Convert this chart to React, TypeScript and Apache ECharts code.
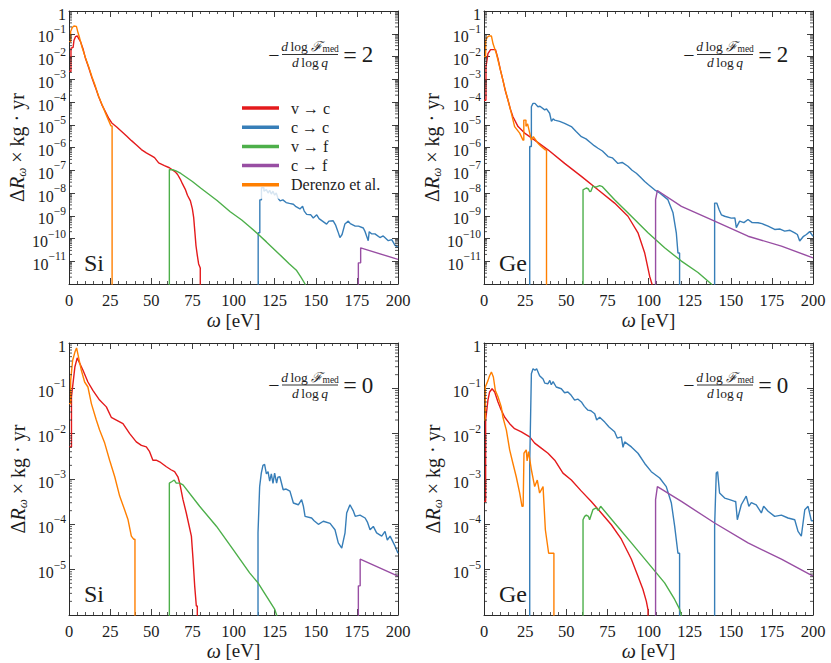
import React, { useEffect, useRef } from "react";
import * as echarts from "echarts";

const FONT = '"Liberation Serif", "DejaVu Serif", serif';
const TXT = "#1c1c1c";
const AX = "#2a2a2a";

const seriesNames = ["v → c", "c → c", "v → f", "c → f", "Derenzo et al."];
const seriesColors = ["#e41a1c", "#377eb8", "#4daf4a", "#984ea3", "#ff7f00"];
const xTickValues = [0, 25, 50, 75, 100, 125, 150, 175, 200];
const minorMultipliers = [2, 3, 4, 5, 6, 7, 8, 9];

// ---------- Si, -dlogF/dlogq = 2 ----------
const siSteepVC = [[0,2.2e-3],[1.2,2.2e-3],[1.2,2.3e-2],[2.5,2.5e-2],[3,5e-2],[4,7.5e-2],[5,8.1e-2],[6,6e-2],[7,4.5e-2],[8.5,2.2e-2],[10,8.3e-3],[12,3.2e-3],[14,1.12e-3],[16,4.5e-4],[18,1.74e-4],[20,7.5e-5],[22,3.9e-5],[24,2.0e-5],[26,1.2e-5],[29,8e-6],[32,5.1e-6],[35,3.2e-6],[38,2.0e-6],[41,1.3e-6],[44,8.1e-7],[47,5.8e-7],[50.5,4.2e-7],[52,3.6e-7],[54.5,2.1e-7],[58,1.6e-7],[61,1.29e-7],[64.6,8.5e-8],[66,6.5e-8],[67.7,4e-8],[69,2.5e-8],[70.7,1.45e-8],[72,8e-9],[73.8,4.5e-9],[75,2e-9],[75.8,8.3e-10],[76.5,2e-10],[77.2,4.8e-11],[78,1.8e-11],[78.8,7.6e-12],[79.8,5e-12],[79.8,1e-13]];
const siSteepCC = [[115,1e-13],[115,1.8e-10],[116,1.8e-10],[116,5e-9],[117,5e-9],[117,1.7e-8],[118.5,1.7e-8],[118.5,1.2e-8],[120,1.4e-8],[121,1e-8],[122,1.3e-8],[123,9e-9],[124,1.2e-8],[125,8e-9],[126,1e-8],[127,6e-9],[128.3,4.5e-9],[130,5e-9],[132,3.8e-9],[134,3.5e-9],[136.4,3.2e-9],[138,2.5e-9],[140.4,2e-9],[142,2.6e-9],[143,1.6e-9],[144.5,1.15e-9],[147,1.1e-9],[148.5,8e-10],[150.6,1.1e-9],[152,7.5e-10],[156.6,4.3e-10],[158,5.8e-10],[160.6,6e-10],[162,4e-10],[163.5,2e-10],[164.7,1.1e-10],[166,1.5e-10],[167.7,4.3e-10],[169.8,5.8e-10],[171,4.5e-10],[174,3.5e-10],[176,3.5e-10],[178.9,2.9e-10],[180,2e-10],[181.9,8e-11],[182.5,2e-10],[183.9,1.6e-10],[186,1.6e-10],[189,1.1e-10],[191,1.3e-10],[194.1,8e-11],[196.2,9e-11],[198.2,5e-11],[200,4.1e-11]];
const siSteepVF = [[61,1e-13],[61,1.07e-7],[63,1.05e-7],[65,9.3e-8],[68,7.2e-8],[75,3.2e-8],[80,1.66e-8],[90,4.7e-9],[98,1.5e-9],[105,6.5e-10],[110,3.2e-10],[115,1.55e-10],[120,7.1e-11],[128,2.0e-11],[134,7.5e-12],[138.4,3.9e-12],[141,2e-12],[143.5,1e-12],[145,5e-13]];
const siSteepCF = [[175.9,1e-13],[175.9,8.5e-12],[177.3,8.5e-12],[177.3,3.9e-11],[200,1.2e-11]];
const siSteepDer = [[0,4.5e-2],[1,4.5e-2],[1,1.26e-1],[2,1.9e-1],[3,2.2e-1],[4.5,2.1e-1],[5.5,1.1e-1],[6.5,6.3e-2],[8,2.5e-2],[10,8.9e-3],[12,3.5e-3],[14,1.26e-3],[16,5e-4],[18,1.8e-4],[20,8e-5],[22,3.5e-5],[24,1.6e-5],[25.5,8.9e-6],[26.2,8.9e-6],[26.2,1e-13]];

// ---------- Ge, -dlogF/dlogq = 2 ----------
const geSteepVC = [[0,1.2e-4],[1.2,1.2e-4],[1.2,3.5e-3],[2.4,1.35e-2],[4,2e-2],[7,2e-2],[8.5,8.1e-3],[10,2.5e-3],[11.5,9.1e-4],[13,3e-4],[14.6,1.2e-4],[16,5e-5],[17.6,2.24e-5],[20.7,8.3e-6],[24.7,4.3e-6],[30.8,2.1e-6],[38.9,7.9e-7],[49,2e-7],[59.2,5.4e-8],[69.3,1.38e-8],[79.4,3.6e-9],[87.5,9.5e-10],[93.6,1.78e-10],[97.7,2.3e-11],[100.7,2.2e-12],[102.1,1e-12],[102.1,1e-13]];
const geSteepCC = [[27.8,1e-13],[27.8,1.1e-6],[28.8,1.1e-6],[28.8,6.2e-5],[29.8,8.7e-5],[31,8.7e-5],[32.8,6.2e-5],[34,6.5e-5],[36.9,4.5e-5],[38,5e-5],[39.9,3.2e-5],[41,1.4e-5],[42,1.8e-5],[43,1.6e-5],[46,1.4e-5],[49,1.15e-5],[53.1,8.3e-6],[56,5e-6],[59.2,3e-6],[62,2.4e-6],[65.2,1.55e-6],[67,1.2e-6],[69.3,9.3e-7],[72,7e-7],[75.4,4e-7],[78,3.5e-7],[81.4,2e-7],[84,2.2e-7],[87.5,1.5e-7],[90,1e-7],[92.6,7.4e-8],[95,5e-8],[97.7,3.2e-8],[100,2.3e-8],[103.7,1.38e-8],[106.8,1e-8],[109,7.5e-9],[111.8,5.1e-9],[114.9,1.35e-9],[116.9,1.78e-10],[117.9,2.3e-11],[118.9,2.3e-11],[118.9,1e-13],[140.2,1e-13],[140.2,3.6e-9],[141.5,3.6e-9],[143,1.8e-9],[144.3,1.1e-9],[146.3,9.5e-10],[150.3,7.9e-10],[152.5,8e-10],[153.4,3e-10],[155.4,5.8e-10],[158,5e-10],[160.5,6.8e-10],[163,5e-10],[166.6,4.9e-10],[169,4.5e-10],[172.7,3.5e-10],[176.7,2.5e-10],[180,2.6e-10],[182.8,2.1e-10],[186,2.3e-10],[188.9,1.78e-10],[190.5,1.5e-10],[191.9,7.8e-11],[194,1.2e-10],[196,1.5e-10],[198,2e-10],[200,1.26e-10]];
const geSteepVF = [[60.2,1e-13],[60.2,1.38e-8],[62.2,1.66e-8],[63.5,1.5e-8],[64.2,1.17e-8],[65,1.2e-8],[66.2,2e-8],[68,1.8e-8],[70.3,2.1e-8],[72,1.9e-8],[79.4,5.1e-9],[89.6,9.5e-10],[99.7,1.78e-10],[109.8,3.9e-11],[120,1.02e-11],[130.1,3.2e-12],[138.2,1e-12],[140,5e-13]];
const geSteepCF = [[104.3,1e-13],[104.3,5.1e-9],[105.4,1.29e-8],[120,2.6e-9],[140.2,5.8e-10],[160.5,1.26e-10],[180.8,4.6e-11],[200,1.41e-11]];
const geSteepDer = [[0,9.5e-3],[1,9.5e-3],[1,5e-2],[2,7e-2],[3,8e-2],[4.5,8e-2],[5.5,3.6e-2],[7.5,1.35e-2],[10.5,1.8e-3],[12.5,4.5e-4],[14.6,1.2e-4],[16.5,3.5e-5],[18.6,8.3e-6],[21.7,4.3e-6],[23.7,2.1e-6],[24.2,2.1e-6],[24.2,1.6e-5],[25.5,1.6e-5],[25.5,8.5e-6],[26.5,1.1e-5],[27.8,4.3e-6],[28.8,2.1e-6],[30,3e-6],[32.8,1.55e-6],[34.8,1.1e-6],[37.3,7.9e-7],[38,7.9e-7],[38,1e-13]];

// ---------- Si, -dlogF/dlogq = 0 ----------
const siFlatVC = [[0,5.1e-3],[1.5,5.1e-3],[1.5,6.5e-2],[3.6,3e-1],[5,4.7e-1],[6.6,3.5e-1],[8.5,2.5e-1],[11.5,1.38e-1],[14.6,8.9e-2],[18.6,5.5e-2],[22.7,3.9e-2],[25.7,2.3e-2],[28.8,2e-2],[32.8,1.66e-2],[36.9,1e-2],[40.9,6.6e-3],[44,5.5e-3],[47,5.1e-3],[49,4e-3],[51,2.6e-3],[53,2.6e-3],[55.1,2.4e-3],[59.2,1.86e-3],[62,1.6e-3],[64.2,1.45e-3],[66.2,1.12e-3],[67.3,8.1e-4],[69.3,3.5e-4],[71.3,1.78e-4],[74.4,5.5e-5],[75.4,1.7e-5],[76.4,4.4e-6],[77.4,1.58e-6],[78,1.58e-6],[78,1e-7]];
const siFlatCC = [[114.9,1e-7],[114.9,6.5e-5],[115.9,6.8e-4],[116.9,1.35e-3],[117.9,2e-3],[118.9,2.1e-3],[120,1.3e-3],[121,1.45e-3],[122,9e-4],[123,1.3e-3],[124,8e-4],[125,1.35e-3],[126.2,8.1e-4],[127,1.1e-3],[128.2,1.12e-3],[130.2,5.8e-4],[132,6e-4],[134.3,5.4e-4],[136.4,2.95e-4],[139.4,2.7e-4],[141.4,3.5e-4],[142.5,2.5e-4],[143.5,1.5e-4],[147.5,1.38e-4],[149,1.2e-4],[151.6,1e-4],[154.6,1.17e-4],[158.7,1.05e-4],[161.7,7.6e-5],[163.7,3.9e-5],[165.8,3e-5],[167.8,6.5e-5],[168.8,1.78e-4],[170.8,2.7e-4],[172.9,1.95e-4],[174,1.5e-4],[176.9,1.6e-4],[180,1.38e-4],[181.5,1.1e-4],[183,7.6e-5],[185,9e-5],[187,6.5e-5],[190.1,5.5e-5],[192.1,7e-5],[193.5,4.5e-5],[195.2,5.5e-5],[198.2,3.3e-5],[200,2.3e-5]];
const siFlatVF = [[61,1e-7],[61,8.1e-4],[62.4,8.7e-4],[64,9.5e-4],[65.2,8.1e-4],[67.3,8.1e-4],[69.3,7.4e-4],[79.4,2.5e-4],[89.6,9.1e-5],[99.7,2.8e-5],[109.8,8.5e-6],[114.9,5.1e-6],[120,2.6e-6],[125,1.35e-6],[126.2,1e-6],[127,7e-7]];
const siFlatCF = [[175.9,1e-7],[175.9,4.4e-6],[177,4.4e-6],[177,1.7e-5],[200,7.2e-6]];
const siFlatDer = [[0,4.6e-2],[1,4.6e-2],[1,1.48e-1],[2.2,4.1e-1],[3.6,6.3e-1],[4.6,7.8e-1],[5.8,4.9e-1],[7.5,2.5e-1],[9.5,1.38e-1],[11.5,1.07e-1],[13.6,4.6e-2],[16.6,2e-2],[18.6,1.2e-2],[21.7,6.2e-3],[24.7,2.6e-3],[27.8,1.12e-3],[30.8,4.2e-4],[33.8,2.1e-4],[35.9,1.26e-4],[37.9,5.5e-5],[39.3,4.7e-5],[40.1,4.7e-5],[40.1,1e-7]];

// ---------- Ge, -dlogF/dlogq = 0 ----------
const geFlatVC = [[0,3.2e-4],[1,3.2e-4],[1,2e-2],[2.4,5.5e-2],[3.4,8.3e-2],[4.9,9.8e-2],[6.5,8.3e-2],[8.5,5e-2],[10.5,3.3e-2],[12.6,2.3e-2],[15.6,1.66e-2],[18.6,1.29e-2],[22.7,1.1e-2],[27.8,8.5e-3],[30.8,6.2e-3],[34.8,4.8e-3],[38.9,3.7e-3],[43,2.6e-3],[48,1.35e-3],[53.1,9.5e-4],[59.2,5.4e-4],[65.2,3.2e-4],[71.3,1.78e-4],[77.4,9.8e-5],[83.5,4.7e-5],[89.6,1.7e-5],[93.6,7.2e-6],[96.6,3.7e-6],[98.7,2e-6],[99.7,1.3e-6],[99.7,1e-7]];
const geFlatCC = [[27.8,1e-7],[27.8,2.2e-3],[28.8,2.1e-1],[29.8,2.7e-1],[31,2.5e-1],[32,2.7e-1],[33.8,1.9e-1],[35.9,1.6e-1],[37,1.3e-1],[38.9,1.26e-1],[40,1.5e-1],[40.9,1.2e-1],[42,1.4e-1],[43.9,1.07e-1],[47,9.8e-2],[49,8e-2],[51,8.3e-2],[53,7e-2],[55.1,5.5e-2],[57,5.8e-2],[59.2,5e-2],[61,4e-2],[63.2,3.3e-2],[65,3.2e-2],[67.3,2.75e-2],[68.5,2e-2],[70.3,2.3e-2],[73.4,1.8e-2],[76,1.4e-2],[79.4,1.1e-2],[81,8e-3],[83.5,8.5e-3],[84.5,5e-3],[85.5,6.6e-3],[89.6,5.1e-3],[93.6,3.7e-3],[97.7,2.2e-3],[101.7,1.45e-3],[106.8,1.05e-3],[110.8,6.8e-4],[113.9,2.95e-4],[115.9,9.1e-5],[117.9,2.3e-5],[118.9,2.3e-5],[118.9,1e-7],[140.2,1e-7],[140.2,9.1e-5],[141.2,1.35e-3],[142,1.45e-3],[143.2,4.9e-4],[146.3,3.8e-4],[149.3,3.5e-4],[152.4,3.2e-4],[153,3.2e-4],[154,1.26e-4],[156.4,2.7e-4],[159.4,4.2e-4],[161,2.5e-4],[162.5,3e-4],[165.5,2.7e-4],[168.6,1.78e-4],[170,2.5e-4],[172.7,1.95e-4],[176.7,1.5e-4],[180.8,1.6e-4],[184.8,1.38e-4],[188.9,1.26e-4],[190.9,7e-5],[192.9,5.5e-5],[195,2.1e-4],[197,2.5e-4],[199,1.2e-4],[200,1.2e-4]];
const geFlatVF = [[60.2,1e-7],[60.2,1.26e-4],[61.2,1.5e-4],[62.2,1.6e-4],[63.5,1.5e-4],[64.2,1.26e-4],[66.2,2.1e-4],[68.2,2.3e-4],[69.5,2e-4],[70.9,2.5e-4],[79.4,1.07e-4],[89.6,3.9e-5],[99.7,1.41e-5],[109.8,5.1e-6],[115.9,2.2e-6],[118.9,1.35e-6],[120,1e-6],[121,7e-7]];
const geFlatCF = [[104.3,1e-7],[104.3,3.5e-4],[105.4,6.8e-4],[120,3.2e-4],[140.2,1.07e-4],[160.5,3.9e-5],[180.8,1.7e-5],[200,7.2e-6]];
const geFlatDer = [[0,2e-2],[0.8,2e-2],[0.8,1.07e-1],[2.4,1.48e-1],[3.4,1.9e-1],[4.5,2.3e-1],[5.7,1.78e-1],[6.9,8.9e-2],[8.5,6.5e-2],[10.5,3.9e-2],[11.5,2.3e-2],[13.6,1.2e-2],[15.6,4.4e-3],[17.6,2.2e-3],[19.6,1.12e-3],[21.7,4.9e-4],[23.1,2.5e-4],[23.8,2.5e-4],[24.3,3.7e-3],[25.7,4.4e-3],[26.2,2.5e-3],[27.1,4e-3],[28.8,1.6e-3],[30.8,6.8e-4],[32.4,9.5e-4],[33.8,4.9e-4],[35.9,6.8e-4],[37.3,7.6e-5],[39.3,2.3e-5],[41.3,2.3e-5],[42.5,2.3e-5],[42.5,1e-7]];

const panels = [
  { left: 69, top: 11, height: 273, yMin: 1e-12, material: "Si", slope: "2", fracDy: 43.5, nameGap: 26, sets: [siSteepVC, siSteepCC, siSteepVF, siSteepCF, siSteepDer] },
  { left: 484, top: 11, height: 273, yMin: 1e-12, material: "Ge", slope: "2", fracDy: 43.5, nameGap: 26, sets: [geSteepVC, geSteepCC, geSteepVF, geSteepCF, geSteepDer] },
  { left: 69, top: 343, height: 272, yMin: 1e-6, material: "Si", slope: "0", fracDy: 42, nameGap: 24, sets: [siFlatVC, siFlatCC, siFlatVF, siFlatCF, siFlatDer] },
  { left: 484, top: 343, height: 272, yMin: 1e-6, material: "Ge", slope: "0", fracDy: 42, nameGap: 24, sets: [geFlatVC, geFlatCC, geFlatVF, geFlatCF, geFlatDer] },
];
const PW = 329;

function yLabel(min: number) {
  return (v: number) => {
    if (v <= min * 1.001) return "";
    const e = Math.round(Math.log10(v));
    if (e === 0) return "{b|1}";
    return "{b|10}{s|−" + String(-e) + "}";
  };
}

const tickRich = {
  b: { fontFamily: FONT, fontSize: 16, color: TXT, padding: [6, 0, 0, 0] },
  s: { fontFamily: FONT, fontSize: 11.5, color: TXT, verticalAlign: "top" },
};

function buildOption() {
  const grid: any[] = [];
  const xAxis: any[] = [];
  const yAxis: any[] = [];
  const series: any[] = [];
  const graphic: any[] = [];
  const drawOrder = [0, 1, 2, 3, 4];

  panels.forEach((p, i) => {
    grid.push({ left: p.left, top: p.top, width: PW, height: p.height, containLabel: false });
    const common = {
      gridIndex: i,
      type: "value",
      min: xTickValues[0],
      max: xTickValues[xTickValues.length - 1],
      interval: 25,
      splitLine: { show: false },
      axisLine: { show: true, onZero: false, lineStyle: { color: AX, width: 1 } },
      axisTick: { show: true, inside: true, length: 6, lineStyle: { color: AX, width: 0.9 } },
      minorTick: { show: true, splitNumber: 5, length: 3, lineStyle: { color: AX, width: 0.8 } },
    };
    xAxis.push({
      ...common,
      position: "bottom",
      axisLabel: { fontFamily: FONT, fontSize: 16.5, color: TXT, margin: 8 },
      name: "{i|ω} [eV]",
      nameLocation: "middle",
      nameGap: p.nameGap,
      nameTextStyle: {
        fontFamily: FONT, fontSize: 19, color: TXT,
        rich: { i: { fontFamily: FONT, fontSize: 20, fontStyle: "italic", color: TXT } },
      },
    });
    xAxis.push({ ...common, position: "top", axisLabel: { show: false } });

    const ycommon = {
      gridIndex: i,
      type: "log",
      logBase: 10,
      min: p.yMin,
      max: 1,
      interval: 1,
      splitNumber: Math.round(-Math.log10(p.yMin)),
      splitLine: { show: false },
      axisLine: { show: true, onZero: false, lineStyle: { color: AX, width: 1 } },
      axisTick: { show: true, inside: true, length: 6, lineStyle: { color: AX, width: 0.9 } },
    };
    yAxis.push({
      ...ycommon,
      position: "left",
      axisLabel: { formatter: yLabel(p.yMin), margin: 3, fontFamily: FONT, rich: tickRich },
      name: "Δ{i|R}{sub|ω} × kg · yr",
      nameLocation: "middle",
      nameRotate: 90,
      nameGap: 40,
      nameTextStyle: {
        fontFamily: FONT, fontSize: 20, color: TXT,
        rich: {
          i: { fontFamily: FONT, fontSize: 20, fontStyle: "italic", color: TXT },
          sub: { fontFamily: FONT, fontSize: 13, fontStyle: "italic", color: TXT, padding: [9, 0, 0, 0] },
        },
      },
    });
    yAxis.push({ ...ycommon, position: "right", axisLabel: { show: false } });

    drawOrder.forEach((k) => {
      series.push({
        name: seriesNames[k],
        type: "line",
        xAxisIndex: 2 * i,
        yAxisIndex: 2 * i,
        data: p.sets[k],
        color: seriesColors[k],
        showSymbol: false,
        symbol: "none",
        clip: true,
        lineStyle: { color: seriesColors[k], width: 1.4 },
        itemStyle: { color: seriesColors[k] },
        emphasis: { disabled: true },
        z: 2 + k * 0.1,
      });
    });

    // log minor ticks (2..9 x 10^n) on the left and right frame edges
    const minorData: number[][] = [];
    const lowExp = Math.round(Math.log10(p.yMin));
    for (let e = lowExp; e < 0; e++) {
      minorMultipliers.forEach((m) => minorData.push([0, m * Math.pow(10, e)]));
    }
    series.push({
      type: "custom",
      name: "minor-" + i,
      xAxisIndex: 2 * i,
      yAxisIndex: 2 * i,
      silent: true,
      z: 5,
      data: minorData,
      renderItem: (_params: any, api: any) => {
        const v = api.value(1);
        const pl = api.coord([0, v]);
        const pr = api.coord([200, v]);
        return {
          type: "group",
          children: [
            { type: "line", shape: { x1: pl[0], y1: pl[1], x2: pl[0] + 3, y2: pl[1] }, style: { stroke: AX, lineWidth: 0.8 } },
            { type: "line", shape: { x1: pr[0] - 3, y1: pr[1], x2: pr[0], y2: pr[1] }, style: { stroke: AX, lineWidth: 0.8 } },
          ],
        };
      },
    });

    const gx = p.left;
    const gy = p.top;
    const fy = gy + p.fracDy;
    const fcx = gx + 241;
    graphic.push(
      { type: "text", x: gx + 205, y: fy, z: 10, style: { text: "−", fontFamily: FONT, fontSize: 20, fill: TXT, textAlign: "center", textVerticalAlign: "middle" } },
      {
        type: "text", x: fcx, y: fy - 8, z: 10,
        style: {
          text: "{i|d}\u2009log\u2009{f|ℱ}{s|med}", fontFamily: FONT, fontSize: 13.5, fill: TXT, textAlign: "center", textVerticalAlign: "middle",
          rich: {
            i: { fontFamily: FONT, fontSize: 13.5, fontStyle: "italic", fill: TXT },
            f: { fontFamily: FONT, fontSize: 13.5, fontStyle: "italic", fill: TXT },
            s: { fontFamily: FONT, fontSize: 9.5, fill: TXT, padding: [5, 0, 0, 1] },
          },
        },
      },
      { type: "line", z: 10, shape: { x1: gx + 213, y1: fy, x2: gx + 269, y2: fy }, style: { stroke: TXT, lineWidth: 0.9 } },
      {
        type: "text", x: fcx, y: fy + 8, z: 10,
        style: {
          text: "{i|d}\u2009log\u2009{i|q}", fontFamily: FONT, fontSize: 13.5, fill: TXT, textAlign: "center", textVerticalAlign: "middle",
          rich: { i: { fontFamily: FONT, fontSize: 13.5, fontStyle: "italic", fill: TXT } },
        },
      },
      { type: "text", x: gx + 281, y: fy, z: 10, style: { text: "=", fontFamily: FONT, fontSize: 24, fill: TXT, textAlign: "center", textVerticalAlign: "middle" } },
      { type: "text", x: gx + 298.5, y: fy, z: 10, style: { text: p.slope, fontFamily: FONT, fontSize: 23, fill: TXT, textAlign: "center", textVerticalAlign: "middle" } },
      { type: "text", x: gx + 15, y: gy + p.height - 21, z: 10, style: { text: p.material, fontFamily: FONT, fontSize: 24, fill: TXT, textAlign: "left", textVerticalAlign: "middle" } }
    );
  });

  return {
    animation: false,
    backgroundColor: "#ffffff",
    textStyle: { fontFamily: FONT },
    grid,
    xAxis,
    yAxis,
    series,
    graphic,
    legend: {
      show: true,
      data: seriesNames,
      orient: "vertical",
      left: 236,
      top: 94,
      padding: [6, 8, 6, 6],
      backgroundColor: "rgba(255,255,255,0.8)",
      icon: "rect",
      itemWidth: 37,
      itemHeight: 3.5,
      itemGap: 3.2,
      selectedMode: false,
      textStyle: { fontFamily: FONT, fontSize: 16, color: TXT, lineHeight: 16, padding: [0, 0, 0, 7] },
    },
  };
}

export default function App() {
  const ref = useRef<HTMLDivElement>(null);
  useEffect(() => {
    if (!ref.current) return;
    const chart = echarts.init(ref.current, undefined, { renderer: "svg" });
    chart.setOption(buildOption() as any);
    return () => chart.dispose();
  }, []);
  return (
    <div
      ref={ref}
      style={{ position: "absolute", left: 0, top: 0, width: 831, height: 663, background: "#fff" }}
    />
  );
}
